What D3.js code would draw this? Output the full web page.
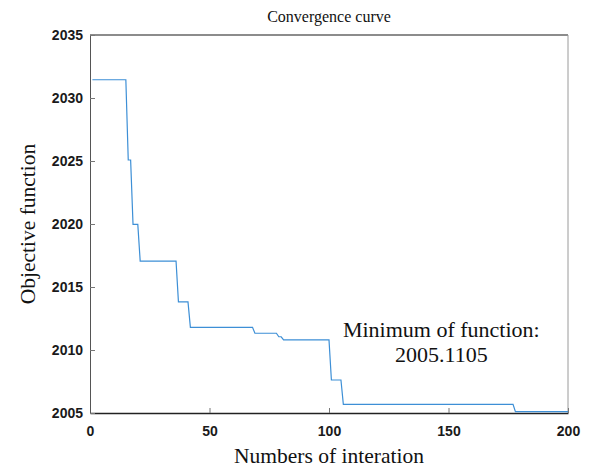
<!DOCTYPE html>
<html>
<head>
<meta charset="utf-8">
<script src="https://cdn.jsdelivr.net/npm/d3@7"></script>
<style>
  body { margin: 0; background: #fff; }
</style>
</head>
<body>
<div id="chart"></div>
<script>
// plateau corners of the convergence curve (iteration, best objective)
const iterations = [1, 15, 16, 17, 18, 20, 21, 36, 37, 41, 42, 68, 69, 78, 79, 80, 81, 100, 101, 105, 106, 177, 178, 200];
const objective = [2031.45, 2031.45, 2025.08, 2025.08, 2019.97, 2019.97, 2017.06, 2017.06, 2013.82, 2013.82,
  2011.8, 2011.8, 2011.33, 2011.33, 2011.05, 2011.05, 2010.8, 2010.8, 2007.62, 2007.62, 2005.69, 2005.69, 2005.11, 2005.11];

const xTicks = [0, 50, 100, 150, 200];
const yTicks = [2005, 2010, 2015, 2020, 2025, 2030, 2035];
const titleText = 'Convergence curve';
const xLabel = 'Numbers of interation';
const yLabel = 'Objective function';
const noteLines = ['Minimum of function:', '2005.1105'];

const serif = '"Liberation Serif", "Times New Roman", serif';
const sans = '"Liberation Sans", Arial, sans-serif';

// size of the picture and margins
const total_width = 593, total_height = 468;
const margin = {top: 35, right: 25, bottom: 55, left: 90},
    width = total_width - margin.left - margin.right,
    height = total_height - margin.top - margin.bottom;

const svg = d3.select("#chart")
  .append("svg")
    .attr("width", total_width)
    .attr("height", total_height)
  .append("g")
    .attr("transform", "translate(" + margin.left + "," + margin.top + ")");

const data = iterations.map((it, i) => ({it: it, val: objective[i]}));

// scales
const xScale = d3.scaleLinear().domain([0, 200]).range([0, width]);
const yScale = d3.scaleLinear().domain([2005, 2035]).range([height, 0]);

// box lines (top and right lighter, like matlab)
svg.append("line")
  .attr("x1", 0).attr("x2", width).attr("y1", 0).attr("y2", 0)
  .style("stroke", "#8c8c8c").style("stroke-width", 2);
svg.append("line")
  .attr("x1", width).attr("x2", width).attr("y1", 0).attr("y2", height)
  .style("stroke", "#9a9a9a").style("stroke-width", 1);

// x axis, ticks pointing inside
const xAxis = d3.axisBottom(xScale).tickValues(xTicks).tickFormat(d3.format("d"))
  .tickSizeInner(-5).tickSizeOuter(0).tickPadding(13);
const gx = svg.append("g")
  .attr("transform", "translate(0," + height + ")")
  .call(xAxis);
gx.select(".domain").style("stroke", "#222").style("stroke-width", 1.5);
gx.selectAll(".tick line").style("stroke", "#777");

// y axis
const yAxis = d3.axisLeft(yScale).tickValues(yTicks).tickFormat(d3.format("d"))
  .tickSizeInner(-5).tickSizeOuter(0).tickPadding(7);
const gy = svg.append("g").call(yAxis);
gy.select(".domain").style("stroke", "#555").style("stroke-width", 1);
gy.selectAll(".tick line").style("stroke", "#777");

// tick text: bold sans like the matlab export
svg.selectAll(".tick text")
  .style("font-family", sans)
  .style("font-weight", "bold")
  .style("font-size", "14px")
  .style("fill", "#1a1a1a");

// the curve
const line = d3.line()
  .x(d => xScale(d.it))
  .y(d => yScale(d.val));

svg.append("path")
  .datum(data)
  .attr("d", line)
  .style("fill", "none")
  .style("stroke", "#3d8fd6")
  .style("stroke-width", 1.2);

// title
svg.append("text")
  .attr("text-anchor", "middle")
  .attr("x", width / 2)
  .attr("y", -13)
  .style("font-family", serif)
  .style("font-size", "16px")
  .style("fill", "#111")
  .text(titleText);

// axis labels
svg.append("text")
  .attr("text-anchor", "middle")
  .attr("transform", `translate(${width / 2},${height + 50})`)
  .style("font-family", serif)
  .style("font-size", "21.5px")
  .style("fill", "#111")
  .text(xLabel);

svg.append("text")
  .attr("text-anchor", "middle")
  .attr("transform", `translate(${-55},${height / 2}) rotate(-90)`)
  .style("font-family", serif)
  .style("font-size", "21.5px")
  .style("fill", "#111")
  .text(yLabel);

// annotation of the minimum
svg.selectAll(".note")
  .data(noteLines)
  .enter()
  .append("text")
  .attr("class", "note")
  .attr("text-anchor", "middle")
  .attr("x", xScale(147))
  .attr("y", (d, i) => yScale(2011.05) + i * 25)
  .style("font-family", serif)
  .style("font-size", "22px")
  .style("fill", "#111")
  .text(d => d);
</script>
</body>
</html>
